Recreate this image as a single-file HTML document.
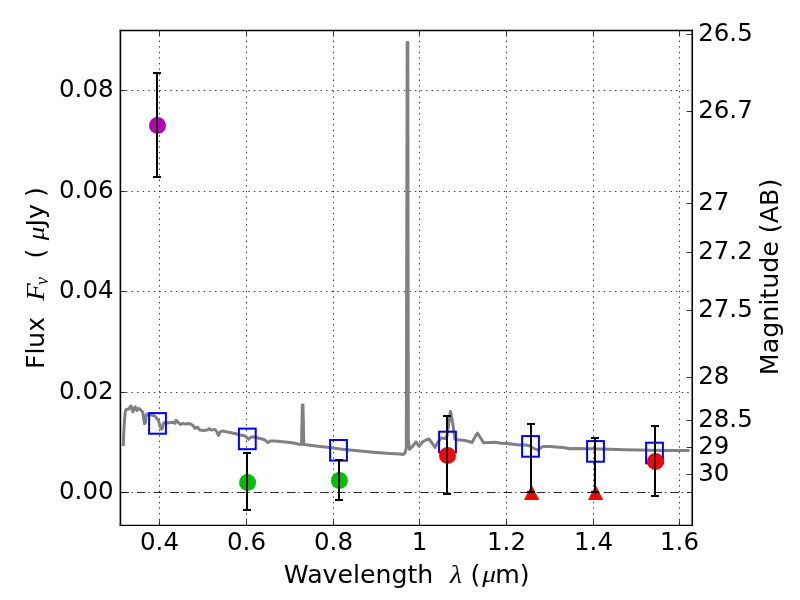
<!DOCTYPE html>
<html lang="en"><head><meta charset="utf-8"><title>SED plot</title>
<style>html,body{margin:0;padding:0;background:#fff;overflow:hidden}svg{display:block}text{font-family:"DejaVu Sans","Liberation Sans",sans-serif;fill:#000}.m{font-family:"Liberation Serif","DejaVu Serif",serif;font-style:italic}.t{font-size:24.5px}</style></head><body>
<svg width="800" height="600" viewBox="0 0 800 600">
<rect x="0" y="0" width="800" height="600" fill="#fff"/>
<g stroke="#000" stroke-width="0.8" stroke-dasharray="1.39 4.166" fill="none">
<line x1="159.50" y1="525.5" x2="159.50" y2="30.5"/>
<line x1="246.50" y1="525.5" x2="246.50" y2="30.5"/>
<line x1="333.50" y1="525.5" x2="333.50" y2="30.5"/>
<line x1="419.50" y1="525.5" x2="419.50" y2="30.5"/>
<line x1="506.50" y1="525.5" x2="506.50" y2="30.5"/>
<line x1="593.50" y1="525.5" x2="593.50" y2="30.5"/>
<line x1="679.50" y1="525.5" x2="679.50" y2="30.5"/>
<line x1="120.5" y1="492.50" x2="692.5" y2="492.50"/>
<line x1="120.5" y1="392.50" x2="692.5" y2="392.50"/>
<line x1="120.5" y1="291.50" x2="692.5" y2="291.50"/>
<line x1="120.5" y1="191.50" x2="692.5" y2="191.50"/>
<line x1="120.5" y1="90.50" x2="692.5" y2="90.50"/>
</g>
<line x1="120.5" y1="492.50" x2="692.5" y2="492.50" stroke="#000" stroke-width="0.8" stroke-dasharray="8.333 8.333"/>
<polyline points="123.3,446.0 123.8,432.0 124.5,420.0 125.2,412.5 125.9,409.6 127.2,409.2 128.8,409.0 129.8,407.2 130.9,405.9 131.8,408.0 132.8,411.8 133.8,409.5 135.1,406.8 136.0,408.5 136.8,410.5 137.8,409.0 138.8,408.4 140.0,409.3 141.2,410.5 142.2,411.3 143.0,413.0 143.7,419.0 144.5,423.8 145.3,423.0 146.0,417.0 146.8,414.2 148.0,414.0 151.3,415.0 154.7,415.9 156.0,417.3 157.2,419.2 158.5,420.3 159.2,423.0 160.2,426.5 161.3,429.2 162.3,428.5 163.4,423.5 164.4,422.6 165.5,422.2 167.5,423.0 170.0,422.6 172.8,422.2 175.0,423.3 176.1,420.4 177.0,420.8 178.0,422.2 179.3,423.6 180.6,424.5 182.9,423.4 185.5,424.1 189.2,423.6 191.0,424.3 193.0,425.6 194.9,428.4 196.2,427.6 197.5,427.1 199.8,430.1 203.5,430.5 207.2,430.1 209.1,428.6 210.4,429.6 211.8,430.1 214.8,429.4 216.6,431.2 217.7,434.0 218.5,435.4 219.5,433.5 220.4,431.6 223.0,431.0 225.0,431.5 230.0,432.5 235.0,433.5 240.0,435.0 243.0,435.5 245.0,436.0 247.0,437.5 248.5,439.3 249.5,438.5 251.0,437.0 254.0,437.0 258.0,438.0 262.0,439.0 265.0,440.0 267.0,442.0 268.5,442.5 270.0,441.0 275.0,441.0 280.0,441.5 285.0,442.0 290.0,442.5 295.0,443.3 299.0,444.3 301.5,444.5 302.4,405.0 303.0,405.0 303.8,444.6 305.0,444.6 310.0,445.3 320.0,446.5 330.0,447.6 340.0,449.0 350.0,450.0 360.0,451.0 370.0,452.0 380.0,452.8 390.0,453.4 400.0,454.0 403.0,454.5 405.0,453.0 406.3,448.0 407.2,42.4 407.8,42.4 408.3,440.0 409.5,449.4 410.5,448.5 412.0,447.0 416.0,441.9 419.0,446.2 423.0,441.5 426.0,440.0 429.0,439.0 432.0,443.0 435.0,447.5 438.0,442.0 441.0,438.0 445.0,438.5 447.0,436.0 450.5,411.2 453.0,425.0 455.0,439.4 460.0,440.0 465.0,440.5 469.0,441.5 472.0,442.5 475.0,437.0 477.5,433.0 480.0,437.0 483.5,442.8 495.0,442.3 501.0,443.3 507.0,443.5 513.0,444.3 520.0,445.0 526.0,445.0 530.0,446.0 533.0,448.0 537.5,450.0 539.0,449.0 543.0,446.5 550.0,446.5 556.0,447.0 563.0,447.5 570.0,448.7 575.0,448.5 590.0,448.7 600.0,449.0 610.0,449.3 625.0,449.8 640.0,450.0 650.0,450.3 665.0,450.5 689.5,450.4" fill="none" stroke="#808080" stroke-width="3" stroke-linejoin="round" stroke-linecap="butt"/>
<g fill="none" stroke="#0000ff" stroke-width="2">
<rect x="149.10" y="413.10" width="16.8" height="20.6"/>
<rect x="238.90" y="428.60" width="16.8" height="20.6"/>
<rect x="330.10" y="440.00" width="16.8" height="20.6"/>
<rect x="439.10" y="431.70" width="16.8" height="20.6"/>
<rect x="522.10" y="436.10" width="16.8" height="20.6"/>
<rect x="587.10" y="441.10" width="16.8" height="20.6"/>
<rect x="646.10" y="442.70" width="16.8" height="20.6"/>
</g>
<circle cx="157.5" cy="125.5" r="8.5" fill="#b400b2"/>
<path d="M157,73V177" stroke="#000" stroke-width="2" fill="none"/>
<path d="M153,73h8M153,177h8" stroke="#000" stroke-width="2" fill="none"/>
<circle cx="247.5" cy="482.5" r="8.5" fill="#00bf00"/>
<path d="M247,453V510" stroke="#000" stroke-width="2" fill="none"/>
<path d="M243,453h8M243,510h8" stroke="#000" stroke-width="2" fill="none"/>
<circle cx="339.4" cy="480.4" r="8.5" fill="#00bf00"/>
<path d="M339,460V500" stroke="#000" stroke-width="2" fill="none"/>
<path d="M335,460h8M335,500h8" stroke="#000" stroke-width="2" fill="none"/>
<circle cx="447.5" cy="455.5" r="8.5" fill="#ff0000"/>
<path d="M447,416V494" stroke="#000" stroke-width="2" fill="none"/>
<path d="M443,416h8M443,494h8" stroke="#000" stroke-width="2" fill="none"/>
<polygon points="531.6,485.0 524.0,500.0 539.2,500.0" fill="#ff0000"/>
<path d="M531,424V492" stroke="#000" stroke-width="2" fill="none"/>
<path d="M527,424h8M527,492h8" stroke="#000" stroke-width="2" fill="none"/>
<polygon points="595.6,485.0 588.0,500.0 603.2,500.0" fill="#ff0000"/>
<path d="M595,438V492" stroke="#000" stroke-width="2" fill="none"/>
<path d="M591,438h8M591,492h8" stroke="#000" stroke-width="2" fill="none"/>
<circle cx="655.4" cy="461.4" r="8.5" fill="#ff0000"/>
<path d="M655,426V496" stroke="#000" stroke-width="2" fill="none"/>
<path d="M651,426h8M651,496h8" stroke="#000" stroke-width="2" fill="none"/>
<path d="M120.4,29.8V526.1M692.25,29.8V526.1" fill="none" stroke="#000" stroke-width="1.6"/>
<path d="M119.7,30.5H693.0M119.7,525.4H693.0" fill="none" stroke="#000" stroke-width="1.4"/>
<g stroke="#000" stroke-width="0.8">
<line x1="159.50" y1="525.4" x2="159.50" y2="520.1999999999999"/>
<line x1="159.50" y1="30.5" x2="159.50" y2="35.7"/>
<line x1="246.50" y1="525.4" x2="246.50" y2="520.1999999999999"/>
<line x1="246.50" y1="30.5" x2="246.50" y2="35.7"/>
<line x1="333.50" y1="525.4" x2="333.50" y2="520.1999999999999"/>
<line x1="333.50" y1="30.5" x2="333.50" y2="35.7"/>
<line x1="419.50" y1="525.4" x2="419.50" y2="520.1999999999999"/>
<line x1="419.50" y1="30.5" x2="419.50" y2="35.7"/>
<line x1="506.50" y1="525.4" x2="506.50" y2="520.1999999999999"/>
<line x1="506.50" y1="30.5" x2="506.50" y2="35.7"/>
<line x1="593.50" y1="525.4" x2="593.50" y2="520.1999999999999"/>
<line x1="593.50" y1="30.5" x2="593.50" y2="35.7"/>
<line x1="679.50" y1="525.4" x2="679.50" y2="520.1999999999999"/>
<line x1="679.50" y1="30.5" x2="679.50" y2="35.7"/>
<line x1="120.5" y1="492.50" x2="125.7" y2="492.50"/>
<line x1="120.5" y1="392.50" x2="125.7" y2="392.50"/>
<line x1="120.5" y1="291.50" x2="125.7" y2="291.50"/>
<line x1="120.5" y1="191.50" x2="125.7" y2="191.50"/>
<line x1="120.5" y1="90.50" x2="125.7" y2="90.50"/>
<line x1="692.5" y1="34.50" x2="686.5" y2="34.50"/>
<line x1="692.5" y1="111.50" x2="686.5" y2="111.50"/>
<line x1="692.5" y1="203.50" x2="686.5" y2="203.50"/>
<line x1="692.5" y1="252.50" x2="686.5" y2="252.50"/>
<line x1="692.5" y1="310.50" x2="686.5" y2="310.50"/>
<line x1="692.5" y1="377.50" x2="686.5" y2="377.50"/>
<line x1="692.5" y1="420.50" x2="686.5" y2="420.50"/>
<line x1="692.5" y1="447.50" x2="686.5" y2="447.50"/>
<line x1="692.5" y1="474.50" x2="686.5" y2="474.50"/>
</g>
<text class="t" x="159.50" y="550.0" text-anchor="middle">0.4</text>
<text class="t" x="246.50" y="550.0" text-anchor="middle">0.6</text>
<text class="t" x="333.50" y="550.0" text-anchor="middle">0.8</text>
<text class="t" x="419.50" y="550.0" text-anchor="middle">1</text>
<text class="t" x="506.50" y="550.0" text-anchor="middle">1.2</text>
<text class="t" x="593.50" y="550.0" text-anchor="middle">1.4</text>
<text class="t" x="679.50" y="550.0" text-anchor="middle">1.6</text>
<text class="t" x="113.6" y="499.40" text-anchor="end">0.00</text>
<text class="t" x="113.6" y="399.40" text-anchor="end">0.02</text>
<text class="t" x="113.6" y="298.40" text-anchor="end">0.04</text>
<text class="t" x="113.6" y="198.40" text-anchor="end">0.06</text>
<text class="t" x="113.6" y="97.40" text-anchor="end">0.08</text>
<text class="t" x="698.2" y="41.00">26.5</text>
<text class="t" x="698.2" y="118.00">26.7</text>
<text class="t" x="698.2" y="210.00">27</text>
<text class="t" x="698.2" y="259.00">27.2</text>
<text class="t" x="698.2" y="317.00">27.5</text>
<text class="t" x="698.2" y="384.00">28</text>
<text class="t" x="698.2" y="427.00">28.5</text>
<text class="t" x="698.2" y="454.00">29</text>
<text class="t" x="698.2" y="481.00">30</text>
<text class="l" y="582.65" font-size="25.2"><tspan x="283.85">Wavelength</tspan> <tspan class="m" x="449.95" y="582.9" font-size="26" textLength="11.94" lengthAdjust="spacingAndGlyphs">λ</tspan> <tspan x="470.55" y="582.65">(</tspan><tspan class="m" x="482.25" y="582.2" font-size="24" textLength="13.85" lengthAdjust="spacingAndGlyphs">μ</tspan><tspan x="495.3" y="582.65">m)</tspan></text>
<text class="l" transform="translate(44.2,369) rotate(-90)" font-size="25.2"><tspan x="0" y="0" font-size="25">Flux</tspan> <tspan class="m" x="68.35" y="-0.3" font-size="25.5" textLength="17.45" lengthAdjust="spacingAndGlyphs">F</tspan><tspan class="m" x="83.9" y="3.8" font-size="18">ν</tspan> <tspan x="110.45" y="0.1">(</tspan> <tspan class="m" x="128.7" y="-0.3" font-size="23.5" textLength="13.57" lengthAdjust="spacingAndGlyphs">μ</tspan><tspan x="142.6" y="0">Jy</tspan> <tspan x="172" y="0.1">)</tspan></text>
<text class="l" transform="translate(777.5,375.2) rotate(-90)" font-size="25.3">Magnitude (AB)</text>
</svg></body></html>
